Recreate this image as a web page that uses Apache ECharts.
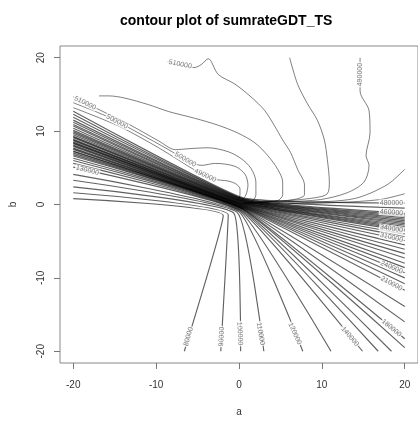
<!DOCTYPE html>
<html>
<head>
<meta charset="utf-8">
<script src="https://cdn.jsdelivr.net/npm/echarts@6/dist/echarts.min.js"></script>
<style>
html, body { margin: 0; padding: 0; background: #fff; }
#chart { width: 418px; height: 422px; }
</style>
</head>
<body>
<div id="chart"></div>
<script>
// contour levels that run from the left edge through the centre to the right / bottom edge
var bandLevels = [80000, 90000, 100000, 110000, 120000, 130000, 140000, 150000, 160000, 170000,
    180000, 190000, 200000, 210000, 220000, 230000, 240000, 250000, 260000, 270000,
    280000, 290000, 300000, 310000, 320000, 330000, 340000, 350000, 360000, 370000,
    380000, 390000, 400000, 410000, 420000, 430000, 440000, 450000, 460000, 470000, 480000];
// b where each one leaves the left edge (a = -20)
var bandLeftB = [0.8, 1.6, 2.4, 3.3, 4.1, 5.1, 5.6, 6.0, 6.3, 6.6,
    6.8, 7.0, 7.2, 7.3, 7.5, 7.6, 7.7, 7.9, 8.0, 8.1,
    8.3, 8.4, 8.5, 8.7, 8.8, 8.9, 9.1, 9.2, 9.3, 9.5,
    9.7, 9.9, 10.1, 10.4, 10.7, 10.9, 11.2, 11.5, 11.9, 12.3, 12.7];
// where they bend near the origin
var bandPivot = [[-1.9, -1.5], [-1.3, -1.4], [-0.6, -1.2], [-0.2, -1.1], [0, -1.0], [0.1, -0.9], [0.2, -0.85], [0.3, -0.8], [0.4, -0.75], [0.5, -0.7],
    [0.5, -0.65], [0.5, -0.6], [0.5, -0.55], [0.5, -0.5], [0.5, -0.45], [0.5, -0.4], [0.5, -0.35], [0.5, -0.3], [0.5, -0.25], [0.5, -0.2],
    [0.5, -0.15], [0.5, -0.1], [0.5, -0.05], [0.5, 0], [0.5, 0.05], [0.5, 0.1], [0.5, 0.15], [0.5, 0.2], [0.5, 0.25], [0.5, 0.3],
    [0.5, 0.35], [0.5, 0.4], [0.5, 0.45], [0.5, 0.5], [0.5, 0.55], [0.5, 0.6], [0.5, 0.65], [0.5, 0.7], [0.5, 0.75], [0.5, 0.8], [0.5, 0.9]];
// where they end on the bottom or right edge
var bandExit = [[-6.6, -20], [-2.2, -20], [0.2, -20], [3.0, -20], [7.7, -20], [11.1, -20], [14.9, -20], [16.8, -20], [18.4, -20], [20, -19.5],
    [20, -18.3], [20, -16.0], [20, -13.9], [20, -11.7], [20, -10.8], [20, -10.0], [20, -9.3], [20, -8.6], [20, -8.0], [20, -7.3],
    [20, -6.7], [20, -6.1], [20, -5.5], [20, -4.9], [20, -4.4], [20, -4.0], [20, -3.6], [20, -3.4], [20, -3.2], [20, -3.0],
    [20, -2.8], [20, -2.6], [20, -2.4], [20, -2.2], [20, -2.0], [20, -1.8], [20, -1.6], [20, -1.4], [20, -1.2], [20, -0.5], [20, 0.2]];

// the curved contours above the band
var lineL3 = [[14.61, 20], [14.61, 15.47], [15.69, 12.8], [15.81, 9.73], [15.33, 6.67], [15.69, 5.33], [15.09, 3.07],
    [13.05, 1.6], [9.82, 0.67], [5.87, 0.4], [2.28, 0.27], [0.48, 0.13]];
var lineL1 = [[6.11, 20], [7.07, 16.4], [8.26, 13.73], [9.46, 11.47], [10.3, 8.8], [10.66, 6.13], [10.9, 3.07],
    [10.66, 1.47], [9.22, 0.93], [5.87, 0.53], [2.28, 0.33], [0.48, 0.2]];
var lineU1 = [[-8.6, 19.47], [-5.39, 18.67], [-4.55, 19.07], [-3.71, 19.87], [-2.51, 17.73], [-0.48, 16.4], [1.44, 14.67],
    [3.11, 12.8], [4.31, 10.67], [5.27, 8.8], [6.23, 7.07], [7.07, 4.8], [7.9, 2.67], [7.9, 1.33], [6.59, 0.67], [3.47, 0.4], [0.84, 0.27]];
var lineW0 = [[-16.89, 14.8], [-15.69, 14.8], [-13.89, 14.53], [-10.9, 13.6], [-8.5, 12.67], [-5.27, 11.73], [-2.51, 10.8],
    [-0.12, 9.73], [1.92, 8.4], [3.47, 6.67], [4.67, 4.8], [5.27, 3.07], [5.27, 1.33], [4.67, 0.53], [2.51, 0.2], [1.08, 0.07]];
var lineW1 = [[-20, 14.67], [-16.89, 12.93], [-13.29, 10.93], [-9.7, 8.67], [-7.66, 7.47], [-6.11, 7.6], [-3.71, 7.73],
    [-1.32, 7.2], [0.24, 6.27], [1.44, 4.93], [2.04, 3.07], [2.04, 1.33], [1.56, 0.4], [0.6, 0.13]];
var lineW2 = [[-20, 13.87], [-15.93, 12.0], [-12.1, 9.73], [-8.5, 7.47], [-6.47, 6.13], [-4.55, 5.33], [-2.87, 5.6],
    [-0.48, 5.2], [0.72, 4.13], [1.08, 2.67], [0.84, 1.33], [0.36, 0.53]];
var lineW3 = [[-20, 13.2], [-14.49, 10.67], [-9.7, 7.73], [-4.91, 4.4], [-3.11, 3.47], [-1.32, 3.2], [-0.36, 2.8],
    [0.12, 2.13], [0.12, 1.33], [-0.12, 0.67]];
var lineL4 = [[20, 4.8], [17.84, 2.67], [13.89, 0.8], [7.9, 0.27], [2.51, 0.07]];
var lineL5 = [[20, 1.47], [17.0, 0.67], [11.86, 0.27], [5.87, 0.07]];
var upperLines = [lineL3, lineL1, lineU1, lineW0, lineW1, lineW2, lineW3, lineL4, lineL5];

// inline contour labels
var labelText = ['510000', '490000', '510000', '500000', '130000', '500000', '490000',
    '480000', '460000', '340000', '310000', '240000', '210000', '180000',
    '140000', '120000', '110000', '100000', '90000', '80000'];
var labelAt = [[-7.1, 19.1], [14.61, 17.7], [-18.56, 13.83], [-14.73, 11.3], [-18.3, 4.65], [-6.47, 6.13], [-4.07, 3.96],
    [18.4, 0.22], [18.4, -1.08], [18.4, -3.3], [18.4, -4.5], [18.4, -8.56], [18.4, -10.77], [18.4, -16.83],
    [13.39, -18], [6.74, -17.6], [2.6, -17.6], [0.1, -17.6], [-2.1, -18], [-6.1, -18]];
var labelAngle = [-12, 90, -26, -28, -14, -30, -25,
    0, -4, -9, -13, -23, -28, -40,
    -50, -66, -80, -87, 87, 74];

var ticks = [-20, -10, 0, 10, 20];

var bandColor = 'rgba(0,0,0,0.62)';
var lineColor = 'rgba(0,0,0,0.5)';
var font = '"Liberation Sans", Arial, sans-serif';

var series = [];
for (var i = 0; i < bandLevels.length; i++) {
    series.push({
        name: String(bandLevels[i]),
        type: 'line',
        data: [[-20, bandLeftB[i]], bandPivot[i], bandExit[i]],
        symbol: 'none',
        smooth: 0.12,
        silent: true,
        lineStyle: { color: bandColor, width: 1.15 }
    });
}
upperLines.forEach(function (pts) {
    series.push({
        type: 'line',
        data: pts,
        symbol: 'none',
        smooth: 0.3,
        silent: true,
        lineStyle: { color: lineColor, width: 1 }
    });
});

var labelData = [];
for (var j = 0; j < labelText.length; j++) {
    labelData.push({
        name: labelText[j],
        value: labelAt[j],
        label: { rotate: labelAngle[j] }
    });
}
series.push({
    type: 'scatter',
    data: labelData,
    symbolSize: 0,
    itemStyle: { color: 'transparent' },
    silent: true,
    z: 5,
    label: {
        show: true,
        position: 'inside',
        formatter: function (p) { return p.name; },
        fontSize: 7,
        fontFamily: font,
        color: '#555',
        backgroundColor: '#fff',
        padding: [0, 1]
    }
});

var myChart = echarts.init(document.getElementById('chart'));
var option = {
    animation: false,
    title: {
        text: 'contour plot of sumrateGDT_TS',
        left: 115,
        top: 9,
        textStyle: { fontSize: 14, fontWeight: 'bold', color: '#000', fontFamily: font }
    },
    grid: {
        left: 60,
        top: 46,
        width: 361,
        height: 324,
        show: true,
        borderColor: '#888',
        borderWidth: 1
    },
    xAxis: {
        type: 'value',
        min: -21.6,
        max: 21.6,
        name: 'a',
        nameLocation: 'middle',
        nameGap: 44,
        nameTextStyle: { fontSize: 10, color: '#333', fontFamily: font },
        axisLine: { show: false, onZero: false },
        splitLine: { show: false },
        axisTick: { show: true, length: 6, lineStyle: { color: '#777' }, customValues: ticks },
        axisLabel: { customValues: ticks, margin: 17, fontSize: 10, color: '#333', fontFamily: font }
    },
    yAxis: {
        type: 'value',
        min: -21.6,
        max: 21.6,
        name: 'b',
        nameLocation: 'middle',
        nameGap: 42,
        nameRotate: 90,
        nameTextStyle: { fontSize: 10, color: '#333', fontFamily: font },
        axisLine: { show: false, onZero: false },
        splitLine: { show: false },
        axisTick: { show: true, length: 6, lineStyle: { color: '#777' }, customValues: ticks },
        axisLabel: { customValues: ticks, rotate: 90, margin: 14, fontSize: 10, color: '#333', fontFamily: font }
    },
    series: series
};
myChart.setOption(option);
</script>
</body>
</html>
